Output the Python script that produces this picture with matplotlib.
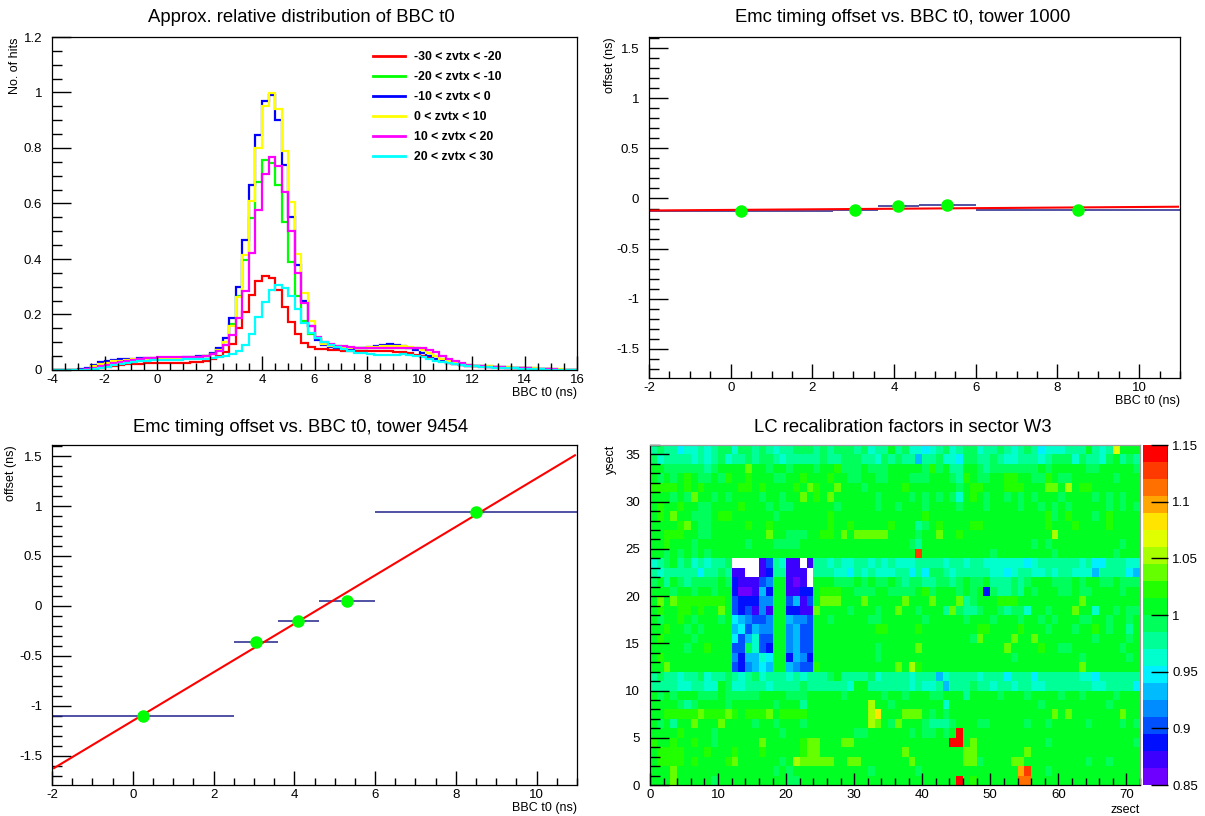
import numpy as np
import matplotlib
matplotlib.use('Agg')
import matplotlib.pyplot as plt
from matplotlib.colors import ListedColormap, BoundaryNorm
from matplotlib.lines import Line2D
from matplotlib.ticker import MultipleLocator, FuncFormatter

plt.rcParams['font.family'] = ['Liberation Sans', 'DejaVu Sans']

# ---- BBC t0 distributions, 0.25 ns bins from -4 to 16 ns ----
t0_edges = np.linspace(-4, 16, 81)
zvtx_labels = ['-30 < zvtx < -20', '-20 < zvtx < -10', '-10 < zvtx < 0',
               '0 < zvtx < 10', '10 < zvtx < 20', '20 < zvtx < 30']
zvtx_colors = ['#ff0000', '#00ff00', '#0000ff', '#ffff00', '#ff00ff', '#00ffff']

hits_zm30 = [0, 0, 0, 0, 0, .001, .004, .008,
             .012, .015, .018, .020, .022, .023, .024, .024,
             .025, .025, .026, .026, .027, .028, .030, .034,
             .040, .050, .066, .092, .150, .208, .270, .320,
             .340, .330, .290, .228, .172, .128, .098, .083,
             .077, .074, .072, .071, .070, .070, .069, .069,
             .068, .068, .068, .067, .066, .064, .060, .055,
             .049, .043, .037, .031, .026, .022, .019, .016,
             .014, .012, .011, .010, .009, .008, .007, .006,
             .005, .004, .003, .002, .001, 0, 0, 0]
hits_zm20 = [0, 0, 0, 0, 0, .003, .010, .017,
             .022, .026, .029, .032, .034, .036, .038, .039,
             .040, .041, .042, .043, .044, .045, .047, .050,
             .056, .074, .100, .165, .265, .395, .548, .678,
             .755, .745, .665, .535, .390, .265, .175, .130,
             .110, .098, .090, .085, .082, .080, .079, .078,
             .078, .079, .080, .081, .081, .081, .080, .078,
             .072, .062, .050, .040, .031, .025, .021, .018,
             .016, .014, .013, .012, .011, .010, .009, .008,
             .007, .006, .004, .003, .002, .001, 0, 0]
hits_zm10 = [0, 0, 0, 0, .003, .008, .018, .028,
             .034, .037, .039, .040, .041, .042, .042, .043,
             .044, .044, .045, .045, .046, .047, .049, .052,
             .060, .080, .114, .186, .300, .470, .665, .846,
             .970, .990, .900, .740, .550, .380, .250, .160,
             .108, .090, .083, .080, .078, .077, .078, .080,
             .083, .087, .090, .092, .090, .086, .080, .071,
             .060, .049, .039, .031, .025, .021, .018, .016,
             .014, .013, .012, .011, .010, .009, .008, .007,
             .006, .005, .004, .002, .001, 0, 0, 0]
hits_z0 = [0, 0, 0, 0, .001, .005, .014, .021,
           .027, .031, .034, .036, .038, .040, .041, .042,
           .043, .044, .044, .045, .045, .046, .048, .051,
           .056, .072, .100, .160, .262, .415, .610, .800,
           .950, 1.000, .940, .790, .605, .418, .278, .178,
           .115, .092, .085, .082, .080, .079, .079, .080,
           .082, .084, .085, .086, .086, .085, .083, .079,
           .072, .062, .050, .040, .031, .025, .021, .018,
           .016, .014, .013, .012, .011, .010, .009, .008,
           .007, .006, .005, .004, .003, .002, 0, 0]
hits_z10 = [0, 0, 0, 0, 0, .002, .008, .014,
            .019, .024, .029, .033, .036, .039, .042, .044,
            .046, .046, .046, .046, .046, .047, .048, .051,
            .056, .068, .090, .125, .188, .285, .422, .575,
            .705, .768, .735, .640, .500, .350, .243, .160,
            .120, .102, .093, .088, .085, .082, .080, .079,
            .078, .078, .078, .079, .080, .081, .081, .080,
            .078, .073, .064, .052, .040, .031, .024, .019,
            .016, .014, .012, .011, .010, .009, .008, .007,
            .006, .005, .004, .003, .002, .001, 0, 0]
hits_z20 = [0, 0, 0, 0, 0, 0, .003, .007,
            .012, .017, .022, .026, .029, .032, .034, .035,
            .036, .036, .037, .037, .038, .038, .039, .041,
            .043, .046, .050, .056, .070, .090, .130, .190,
            .245, .290, .305, .295, .265, .220, .170, .135,
            .115, .100, .090, .082, .074, .068, .063, .060,
            .057, .055, .055, .055, .055, .056, .055, .052,
            .046, .040, .034, .029, .024, .020, .017, .015,
            .013, .011, .010, .009, .008, .007, .006, .005,
            .004, .003, .002, .001, 0, 0, 0, 0]
hits_by_zvtx = [hits_zm30, hits_zm20, hits_zm10, hits_z0, hits_z10, hits_z20]

# ---- timing offset vs BBC t0, five t0 bins ----
bbc_lo = [-2.0, 2.5, 3.6, 4.6, 6.0]
bbc_hi = [2.5, 3.6, 4.6, 6.0, 11.0]
bbc_mean = [0.25, 3.05, 4.1, 5.3, 8.5]
offset_1000 = [-0.127, -0.115, -0.078, -0.067, -0.115]
offset_9454 = [-1.097, -0.355, -0.153, 0.047, 0.945]
fit_1000 = (-0.114, 0.0029)   # intercept, slope
fit_9454 = (-1.148, 0.2425)
fit_range = (-1.95, 10.95)

# ---- LC recalibration factors, sector W3 (72 x 36 towers) ----
# one character per tower: palette level 0-9, a-j (0.015 wide, from 0.85), '.' = no value
lc_rows_top_down = [
    "898867 787899 799898 788999 898999 89788a 897767 897899 788987 898677 7888a8 78eaaa",
    "978888 787897 889899 878888 898899 988798 988588 977699 889877 888789 997988 79a898",
    "aa9999 9989aa aacaa9 aa9aaa 9aab99 9a999a aaaa9b 9a88aa 989999 999a9a aaaa99 aaaaa9",
    "a9a9ab a99a9b aabaaa 99aaba aabaa9 9aa99a aa999a aa98ba 99aabb aa99ba 99aaaa aa9aaa",
    "bbbbab abaaaa abbaba aaabac baacaa a9aaaa abaaaa aaa9ab baaabb baaacc adabba aaaaaa",
    "aaa9a9 caa9a9 aaaa9a a9aaca bacaaa aaa9aa aa9a9a 9a97ab a9aa9a 9a9aaa 9aaaa9 a9a9aa",
    "abaaba a99aaa abaaa9 a99aaa aaa9aa aaa9aa 9aaa9a aaa9aa a9aaaa 9aa9a9 a9aaaa a9a9a9",
    "abacaa 999abb aaaaaa 9aaaaa aabaaa aaaaaa aaaaba aaaaaa aaaaaa aaaab9 abaaa9 abaaaa",
    "aaaabc a99aaa aabaab aaaaaa aabaab aaaaab aaa89a baaaab baaaaa aaaaba aabaaa abaaaa",
    "aabbba a99aaa aaaaac aa999a abbaca ccccca aaa9aa caabaa aaaaaa aaaaad aaaaaa aaaaaa",
    "aabaaa 9aaaaa aa9aaa 9999aa aaaaaa aaaaaa aa98aa aaaaaa aaaaaa aa9a9a aaaaaa aaa9aa",
    "aa9a9a 9a9aaa aaaaaa aaaaaa aaaaaa aaaaaa aaaiaa aaaaaa aa9aaa aaaaa9 aaaaaa aa9aaa",
    "789a89 787889 ....13 8711.1 887877 887878 777888 878878 877777 767888 888786 688877",
    "878888 868898 11..12 88111. 888776 878777 886869 987888 887767 887787 887775 888865",
    "9a8a98 9999a9 211134 aa101. aaa999 a9a99a 989988 9989a9 9a8889 89aaa9 99a9aa 99a999",
    "aaa9aa 9aa9aa 200152 aa1122 abbbaa 999aa9 999ab9 aaa9a9 a29889 8a9aaa 99a99a aaa9aa",
    "acacbb bbbbba 322244 aa3513 acccaa acaaaa acaaac aaac89 aaabbb aaaaaa aaacaa aaaaaa",
    "abaabb abaaca 323141 aa2211 caaaa9 aaa9aa caa9aa a8c988 9aa989 97aa9a aacaa7 aa9a99",
    "a9aaba 9aaa9a 654334 aa5443 aa9aaa aa99aa aaaa9a aaaa9a aa9aaa 9aa9a9 aaa99a a9aa9a",
    "aabaa9 a9aaaa 563544 aa4533 aaaaaa aaabba aaabaa aaaaaa bbaaaa baaa9a aa9aab a9aa8a",
    "abaaaa 9aaaaa 635733 aa4533 aaaaaa aaaaaa aaaaaa aaaaa9 caaaac aacaaa aaaaa9 aaaa9a",
    "aaaaa9 aabaaa 339732 aa4533 aaaaaa aaa9aa aaacaa aaaaaa aaaaca aaabaa 99aaaa aaa9aa",
    "abaaaa aaaaaa 425576 aa2542 aaaaaa aaa9aa aaaaaa aaaaaa aaaaa9 aaaaaa aaa9aa aaaa9a",
    "aacaaa aaaaaa 324565 aa5433 baaaaa aaaaaa cadbaa aaaaaa aaaaaa aaaaaa aaacaa aaaaaa",
    "898878 897889 878978 887878 889a88 889788 887888 578888 788868 886888 888776 888888",
    "888877 8877a9 778887 888898 888887 aa8888 887877 858889 887887 887788 888887 788886",
    "a9a9aa a999a9 9999aa aa999a aaaa9a aaaa9a a9aaa9 9aaa8a aaa9aa a9aaaa 9aa9aa aa9aaa",
    "aaaa98 9aaaa9 aaaaaa 9aaa8a aaaaaa aadaa9 aaaaaa a7aaaa aaaaaa aaa9aa aaaaaa a9aaaa",
    "aabbbb bcbbbc babbbc abbbba aaaaaa aadfaa accca9 a9aaaa aaaaaa aaaaac acaaaa aaacaa",
    "a9a8aa caaaca aaa9aa 9aaa9a aaaaaa aadca9 caaa98 889aaa 99aaaa a9aa9a aaaa9a aaa9a9",
    "aaaaba aaa9aa aaaaaa a9aaaa aaaaaa 99aaaa aa9a99 a9ajaa aaaaaa aaaaaa aaaaaa aaaaaa",
    "baabaa baa9aa aaaaca aaaabc caaacc aaaaaa aaaaaa aajjac aaaaaa aaaa9a aaaaaa aaaaa9",
    "abbbba aabaaa baaaba aaaabc caaaaa aaaaaa acaaaa aaaacc aaaaaa acaaaa aaaaaa aaaaaa",
    "abbbba baaaab caaaaa a9adcc cccaac caaaaa aacaaa aaaacc 9aaaac caaaaa aaaa9a a9aaaa",
    "aaacaa aaaaaa aaaaaa 9a9aaa aaaaaa aa9aaa aaa9aa aaaaaa aaaaaa giaa9a aaaaaa aaaaaa",
    "aaacaa aaa9aa aaaaaa aa99aa aaaaaa aaaaaa aaaaaa aaajab aaaaaa hhaaaa aaaaaa aaaaaa",
]
lc_min, lc_max, lc_nlev = 0.85, 1.15, 20
lc_palette = ['#6e00ff', '#3c00ff', '#0010ff', '#0050ff', '#008cff',
              '#00bcff', '#00f0ff', '#00ffcc', '#00ff96', '#00ff5a',
              '#00ff22', '#22ff00', '#66ff00', '#a8ff00', '#e0ff00',
              '#ffe400', '#ffa600', '#ff7000', '#ff3a00', '#ff0000']

W, H = 1205, 816
fig = plt.figure(figsize=(W / 100, H / 100), dpi=100)


def frame(left, top, right, bottom):
    return fig.add_axes([left / W, 1 - bottom / H, (right - left) / W, (bottom - top) / H])


def short_num(v, pos=None):
    return '%g' % (round(v, 6) + 0.0)


def root_axes(ax, xmaj, xmin, ymaj, ymin):
    ax.xaxis.set_major_locator(MultipleLocator(xmaj))
    ax.xaxis.set_minor_locator(MultipleLocator(xmin))
    ax.yaxis.set_major_locator(MultipleLocator(ymaj))
    ax.yaxis.set_minor_locator(MultipleLocator(ymin))
    ax.xaxis.set_major_formatter(FuncFormatter(short_num))
    ax.yaxis.set_major_formatter(FuncFormatter(short_num))
    ax.tick_params(which='both', direction='in', top=False, right=False,
                   labelsize=9.5, width=1)
    ax.tick_params(axis='x', which='major', length=10, pad=3)
    ax.tick_params(axis='x', which='minor', length=5)
    ax.tick_params(axis='y', which='major', length=14, pad=7)
    ax.tick_params(axis='y', which='minor', length=7)
    for s in ax.spines.values():
        s.set_linewidth(0.9)


def axis_titles(ax, xlab, ylab, xoff, yoff):
    ax.set_xlabel(xlab, loc='right', fontsize=9)
    ax.xaxis.set_label_coords(1.0, xoff)
    ax.set_ylabel(ylab, loc='top', fontsize=9)
    ax.yaxis.set_label_coords(yoff, 1.0)


def pad_title(xc, yc, text):
    fig.text(xc / W, 1 - yc / H, text, ha='center', va='center', fontsize=13.3)


# ---- top left: BBC t0 distributions ----
ax1 = frame(52, 37, 577, 370)
for hits, col in zip(hits_by_zvtx, zvtx_colors):
    ax1.stairs(hits, t0_edges, color=col, lw=1.6, baseline=0)
ax1.set_xlim(-4, 16)
ax1.set_ylim(0, 1.2)
root_axes(ax1, 2, 0.5, 0.2, 0.05)
axis_titles(ax1, 'BBC t0 (ns)', 'No. of hits', -0.05, -0.059)
handles = [Line2D([], [], color=c, lw=2) for c in zvtx_colors]
ax1.legend(handles, zvtx_labels, loc='upper left', bbox_to_anchor=(0.612, 0.958),
           frameon=False, borderpad=0, borderaxespad=0, labelspacing=0.66,
           handlelength=2.6, handletextpad=0.7,
           prop={'size': 8.8, 'weight': 'bold'})
pad_title(301, 18, 'Approx. relative distribution of BBC t0')


# ---- offset panels ----
def offset_panel(ax, offsets, fit):
    xm = np.array(bbc_mean)
    xerr = [xm - np.array(bbc_lo), np.array(bbc_hi) - xm]
    ax.errorbar(bbc_mean, offsets, xerr=xerr, fmt='none', ecolor='#22228c',
                elinewidth=1.1, capsize=0)
    fx = np.linspace(fit_range[0], fit_range[1], 2)
    ax.plot(fx, fit[0] + fit[1] * fx, color='#ff0000', lw=1.5)
    ax.plot(bbc_mean, offsets, 'o', color='#00ff00', mec='#00ff00', ms=8)
    ax.set_xlim(-2, 11)
    ax.set_ylim(-1.79, 1.61)
    root_axes(ax, 2, 0.5, 0.5, 0.1)


ax2 = frame(649, 37, 1180, 378)
offset_panel(ax2, offset_1000, fit_1000)
axis_titles(ax2, 'BBC t0 (ns)', 'offset (ns)', -0.05, -0.062)
pad_title(903, 18, 'Emc timing offset vs. BBC t0, tower 1000')

ax3 = frame(52, 445, 577, 785)
offset_panel(ax3, offset_9454, fit_9454)
axis_titles(ax3, 'BBC t0 (ns)', 'offset (ns)', -0.05, -0.066)
pad_title(301, 428, 'Emc timing offset vs. BBC t0, tower 9454')

# ---- bottom right: LC recalibration map ----
levels = {c: i for i, c in enumerate('0123456789abcdefghij')}
lc_grid = np.full((36, 72), np.nan)
for r, line in enumerate(reversed(lc_rows_top_down)):
    for c, ch in enumerate(line.replace(' ', '')):
        if ch != '.':
            lc_grid[r, c] = lc_min + (levels[ch] + 0.5) * (lc_max - lc_min) / lc_nlev

cmap = ListedColormap(lc_palette)
cmap.set_bad('white')
norm = BoundaryNorm(np.linspace(lc_min, lc_max, lc_nlev + 1), lc_nlev)

ax4 = frame(650, 445, 1140, 785)
mesh = ax4.pcolormesh(np.arange(73), np.arange(37), np.ma.masked_invalid(lc_grid),
                      cmap=cmap, norm=norm)
ax4.set_xlim(0, 72)
ax4.set_ylim(0, 36)
root_axes(ax4, 10, 2, 5, 1)
ax4.tick_params(axis='x', which='major', length=9)
ax4.tick_params(axis='y', which='major', length=14)
ax4.spines['top'].set_color('#9a9a9a')
ax4.spines['right'].set_color('#9a9a9a')
axis_titles(ax4, 'zsect', 'ysect', -0.056, -0.068)
pad_title(903, 428, 'LC recalibration factors in sector W3')

cax = frame(1143, 445, 1168, 785)
cb = fig.colorbar(mesh, cax=cax, ticks=np.arange(0.85, 1.1501, 0.05))
cb.outline.set_visible(False)
cax.axvline(1, color='black', lw=1)
cax.yaxis.set_major_formatter(FuncFormatter(short_num))
cax.tick_params(direction='in', length=12, width=1, labelsize=9.5, pad=3)
cax.minorticks_off()

fig.savefig('out.png', dpi=100)
